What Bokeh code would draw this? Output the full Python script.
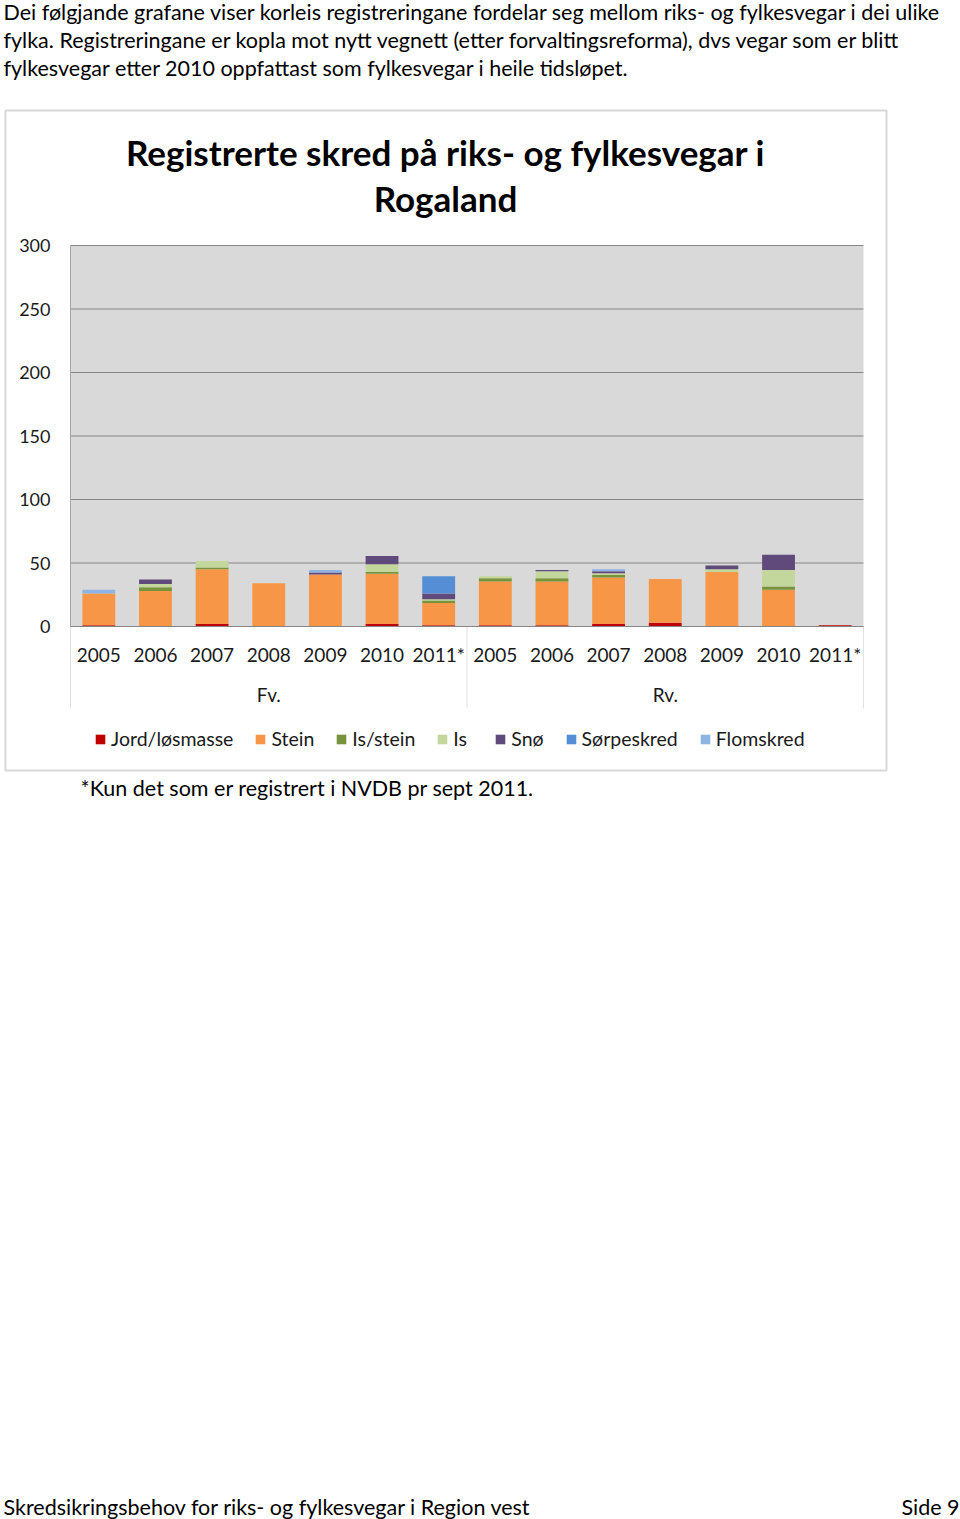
from bokeh.plotting import figure
from bokeh.models import (Range1d, Label, Legend, LegendItem, BoxAnnotation, PolyAnnotation,
                          FixedTicker, ColumnDataSource, LinearAxis)
from bokeh.embed import file_html
from bokeh.resources import INLINE

# ---- data ----
groups = ["Fv.", "Rv."]
years = ["2005", "2006", "2007", "2008", "2009", "2010", "2011*"]
series = ["Jord/løsmasse", "Stein", "Is/stein", "Is", "Snø", "Sørpeskred", "Flomskred"]
jord = [1, 0, 2, 0, 0, 2, 1, 1, 1, 2, 3, 0, 0, 1]
stein = [25, 28, 43, 34, 41, 39.5, 17.5, 34.5, 34.5, 36.5, 34.5, 43, 29, 0]
is_stein = [0, 3, 1.5, 0, 0, 1.5, 2, 2.5, 2.5, 2, 0, 0, 2.5, 0]
is_ = [0, 2.5, 5, 0, 0, 6, 1, 1.5, 5.5, 1.5, 0, 2, 13, 0]
sno = [0, 3.5, 0, 0, 1.5, 6.5, 4.5, 0, 1, 1.5, 0, 3, 12, 0]
sorpe = [0, 0, 0, 0, 0, 0, 13.5, 0, 0, 0, 0, 0, 0, 0]
flom = [3, 0, 0, 0, 2, 0, 0, 0, 0, 1.5, 0, 0, 0, 0]
y_ticks = [0, 50, 100, 150, 200, 250, 300]
colors = ["#C00000", "#F79646", "#77933C", "#C3D69B", "#604A7B", "#558ED5", "#8EB4E3"]

labels = [y for g in groups for y in years]
NF = len(labels)
xi = [i + 0.5 for i in range(NF)]
keys = ["jord", "stein", "is_stein", "is_", "sno", "sorpe", "flom"]
src = ColumnDataSource(dict(x=xi, jord=jord, stein=stein, is_stein=is_stein, is_=is_,
                            sno=sno, sorpe=sorpe, flom=flom))

FONT = "Lato"
TXT = "#1A1A1A"
W, H = 960, 1519
FL, FR, FT, FB = 70, 863, 245, 626      # chart plot area in page pixels
YMAX = 300

# page coordinates: x 0..960, y 0..1519 top-down
p = figure(width=W, height=H, output_backend="svg", toolbar_location=None,
           x_range=Range1d(0, W), y_range=Range1d(H, 0),
           x_axis_type=None, y_axis_type=None,
           min_border=0, min_border_left=0, min_border_right=0, min_border_top=0, min_border_bottom=0)
p.background_fill_color = "white"
p.border_fill_color = "white"
p.outline_line_color = None
p.grid.visible = False

# chart value ranges mapped onto the plot area
kx = NF / (FR - FL)
ky = YMAX / (FB - FT)
p.extra_x_ranges = {"bx": Range1d(-FL * kx, (W - FL) * kx)}
p.extra_y_ranges = {"val": Range1d((FB - H) * ky, FB * ky)}

# chart box and plot area
p.add_layout(BoxAnnotation(left=5, right=886, top=110, bottom=770, fill_alpha=0,
                           line_color="#7F7F7F", line_width=2, level="underlay"))
p.add_layout(BoxAnnotation(left=FL, right=FR, top=FT, bottom=FB, fill_color="#D9D9D9",
                           fill_alpha=1, line_alpha=0, level="underlay"))

# gridlines
p.segment(x0=0, x1=NF, y0=y_ticks, y1=y_ticks, x_range_name="bx", y_range_name="val",
          line_color="#868686", line_width=1)

rs = p.vbar_stack(keys, x="x", width=0.58, source=src, color=colors, line_color=None,
                  x_range_name="bx", y_range_name="val")

# axes
yax = LinearAxis(y_range_name="val", fixed_location=FL, bounds=(0, YMAX),
                 ticker=FixedTicker(ticks=y_ticks))
yax.axis_line_color = "#A6A6A6"
yax.major_tick_out = 0
yax.major_tick_in = 0
yax.minor_tick_line_color = None
yax.major_label_standoff = 20
yax.major_label_text_font = FONT
yax.major_label_text_font_size = "18px"
yax.major_label_text_color = TXT
p.add_layout(yax, "left")

xax = LinearAxis(x_range_name="bx", fixed_location=FB, bounds=(0, NF),
                 ticker=FixedTicker(ticks=xi),
                 major_label_overrides={x: l for x, l in zip(xi, labels)})
xax.axis_line_color = "#868686"
xax.major_tick_out = 0
xax.major_tick_in = 0
xax.minor_tick_line_color = None
xax.major_label_standoff = 16
xax.major_label_text_font = FONT
xax.major_label_text_font_size = "19px"
xax.major_label_text_color = TXT
p.add_layout(xax, "below")

# separators under the axis
for sx in [FL, (FL + FR) / 2, FR]:
    p.add_layout(PolyAnnotation(xs=[sx, sx], ys=[FB, 708], line_color="#A0A0A0",
                                line_width=1, fill_alpha=0))

# legend
items = [LegendItem(label=s, renderers=[r]) for s, r in zip(series, rs)]
leg = Legend(items=items, orientation="horizontal", location=(94, H - 750),
             label_text_font=FONT, label_text_font_size="19.5px", label_text_color=TXT,
             glyph_width=12, glyph_height=12, label_standoff=5, spacing=21, padding=0, margin=0,
             border_line_color=None, background_fill_alpha=0, label_height=20)
p.add_layout(leg)

def lab(x, y, text, size="21.5px", style="normal", align="left", color="black"):
    p.add_layout(Label(x=x, y=y, text=text, text_font=FONT, text_font_size=size,
                       text_font_style=style, text_align=align, text_baseline="middle",
                       text_color=color))

lab(FL + (FR - FL) * 3.5 / NF, 694, groups[0], size="19px", align="center", color=TXT)
lab(FL + (FR - FL) * 10.5 / NF, 694, groups[1], size="19px", align="center", color=TXT)

lab(3, 11, "Dei følgjande grafane viser korleis registreringane fordelar seg mellom riks- og fylkesvegar i dei ulike")
lab(3, 39, "fylka. Registreringane er kopla mot nytt vegnett (etter forvaltingsreforma), dvs vegar som er blitt")
lab(3, 67, "fylkesvegar etter 2010 oppfattast som fylkesvegar i heile tidsløpet.")
lab(445, 151, "Registrerte skred på riks- og fylkesvegar i", size="35px", style="bold", align="center")
lab(445, 197, "Rogaland", size="35px", style="bold", align="center")
lab(80, 787, "*Kun det som er registrert i NVDB pr sept 2011.")
lab(3, 1506, "Skredsikringsbehov for riks- og fylkesvegar i Region vest")
lab(959, 1506, "Side 9", align="right")

open("out.html", "w").write(file_html(p, INLINE))
